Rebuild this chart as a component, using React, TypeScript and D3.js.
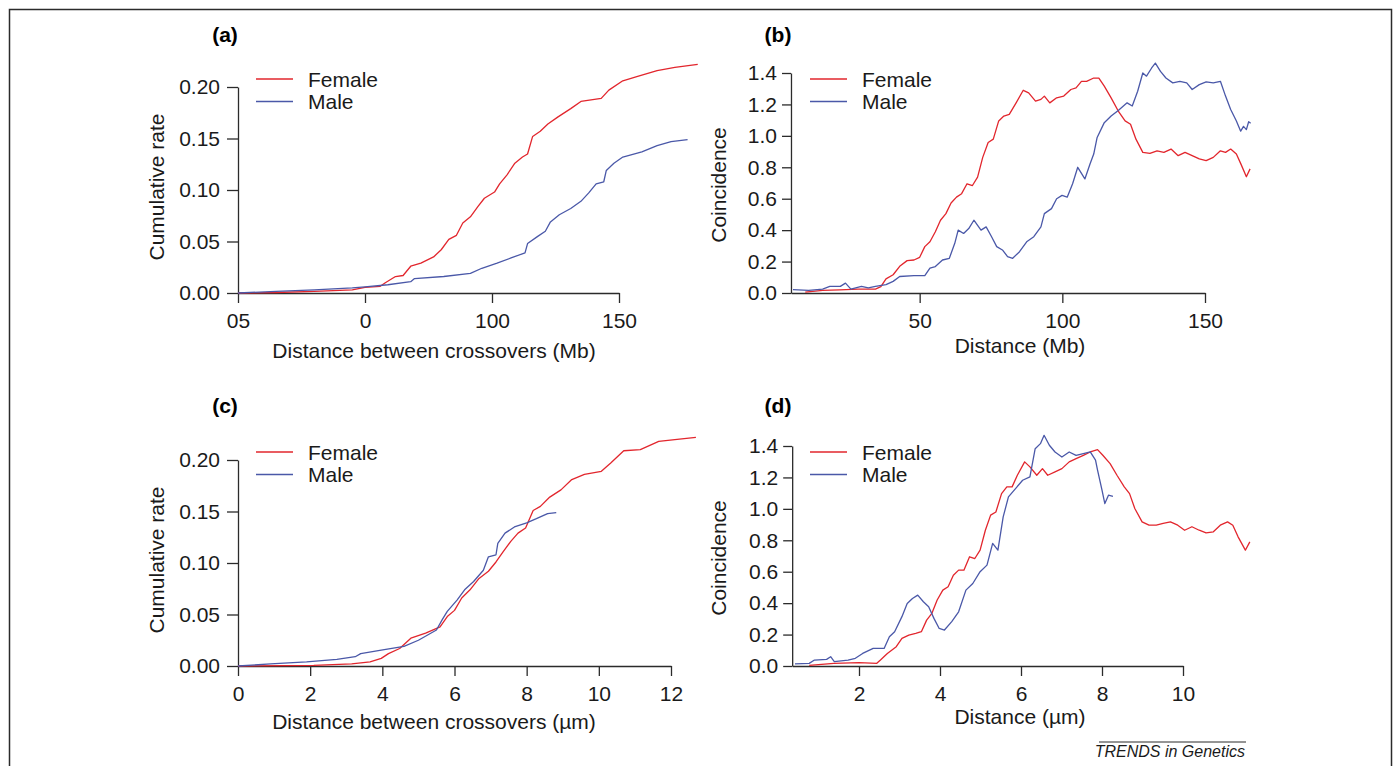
import { useEffect, useRef } from 'react';
import * as d3 from 'd3';

type Pt = [number, number];

// (a) cumulative rate vs distance in Mb
const FEMALE_CUM_MB: Pt[] = [
  [0, 0], [15, 0.0005], [30, 0.0015], [45, 0.003], [50, 0.0055], [56, 0.0065], [58, 0.01],
  [62, 0.016], [65, 0.017], [68, 0.026], [72, 0.029], [77, 0.035], [80, 0.042], [83, 0.052],
  [86, 0.056], [88.5, 0.068], [91.5, 0.074], [94.5, 0.084], [97, 0.092], [101, 0.098],
  [103, 0.106], [106, 0.115], [109, 0.126], [112, 0.132], [114, 0.135], [116, 0.152],
  [119, 0.157], [122, 0.164], [126, 0.171], [131, 0.179], [135, 0.186], [143, 0.189],
  [146, 0.197], [151.5, 0.206], [157, 0.21], [165, 0.216], [172, 0.219], [181, 0.222]
];
const MALE_CUM_MB: Pt[] = [
  [0, 0], [15, 0.0016], [30, 0.003], [45, 0.005], [50, 0.006], [59, 0.008], [68, 0.011],
  [69.5, 0.014], [81, 0.016], [91.5, 0.019], [96, 0.024], [102, 0.029], [107.5, 0.034],
  [113, 0.039], [114, 0.048], [118, 0.055], [121, 0.06], [123, 0.069], [126.5, 0.076],
  [131, 0.082], [135, 0.089], [138, 0.097], [141, 0.106], [144, 0.108], [145, 0.119],
  [148, 0.126], [151.5, 0.132], [159, 0.137], [165, 0.143], [170.5, 0.147], [177, 0.149]
];

// (b) coincidence vs distance in Mb
const FEMALE_COIN_MB: Pt[] = [
  [9.9, 0.005], [16, 0.017], [22, 0.02], [28.4, 0.025], [34.5, 0.025], [36.4, 0.04], [38.2, 0.09],
  [40.7, 0.116], [43, 0.17], [45.6, 0.206], [48, 0.21], [50, 0.227], [51.8, 0.295], [53.6, 0.326],
  [55.5, 0.39], [57.3, 0.463], [59.2, 0.505], [61, 0.573], [62.9, 0.61], [64.7, 0.632],
  [66.6, 0.695], [68.5, 0.684], [70.3, 0.737], [72.1, 0.863], [74, 0.958], [75.8, 0.979],
  [77.7, 1.095], [79.5, 1.126], [81.4, 1.137], [83.8, 1.21], [86.3, 1.29], [88.2, 1.274],
  [90.6, 1.221], [92.5, 1.232], [93.7, 1.253], [95.6, 1.21], [98, 1.242], [100.5, 1.253],
  [103, 1.295], [104.8, 1.305], [106.7, 1.347], [108.5, 1.347], [111, 1.368], [112.8, 1.368],
  [114.7, 1.316], [117.1, 1.242], [119.6, 1.158], [122, 1.095], [123.9, 1.074], [125.8, 0.979],
  [128.2, 0.895], [130.7, 0.888], [133.2, 0.905], [135.6, 0.895], [138.1, 0.916], [140.6, 0.874],
  [143, 0.895], [145.5, 0.874], [148, 0.853], [150.4, 0.842], [152.9, 0.863], [155.4, 0.905],
  [157.2, 0.895], [159, 0.916], [161, 0.884], [162.6, 0.82], [164.5, 0.74], [165.8, 0.79]
];
const MALE_COIN_MB: Pt[] = [
  [5.6, 0.021], [11.1, 0.017], [16, 0.025], [18.5, 0.042], [22.2, 0.042], [24, 0.063],
  [25.9, 0.025], [29.6, 0.042], [32, 0.032], [34.5, 0.042], [38.2, 0.053], [40.7, 0.074],
  [43, 0.105], [48, 0.11], [51.8, 0.11], [53.6, 0.158], [55.5, 0.168], [58, 0.21], [60.4, 0.221],
  [62.3, 0.316], [63.5, 0.4], [65.4, 0.379], [67.2, 0.41], [69, 0.463], [71.5, 0.4], [73.3, 0.421],
  [75.2, 0.358], [77, 0.295], [79, 0.274], [80.8, 0.232], [82.6, 0.221], [85, 0.263], [87.5, 0.326],
  [90, 0.358], [92.5, 0.421], [93.7, 0.505], [96.2, 0.537], [98, 0.6], [99.9, 0.621], [101.7, 0.61],
  [103.6, 0.695], [105.4, 0.8], [107.9, 0.726], [109.7, 0.821], [111, 0.884], [112.2, 0.99],
  [114.7, 1.084], [117.1, 1.126], [119.6, 1.162], [122.7, 1.21], [124.5, 1.19], [126.4, 1.284],
  [128.2, 1.4], [129.5, 1.38], [131.3, 1.432], [132.6, 1.463], [134.4, 1.41], [136.3, 1.368],
  [138.7, 1.337], [141.2, 1.347], [143.6, 1.337], [145.5, 1.295], [148, 1.326], [150.4, 1.343],
  [152.9, 1.337], [155.4, 1.347], [157.2, 1.253], [159, 1.168], [161, 1.095], [162.5, 1.03],
  [163.5, 1.06], [164.5, 1.04], [165.3, 1.09], [166, 1.08]
];

// (c) cumulative rate vs distance in µm
const FEMALE_CUM_UM: Pt[] = [
  [0, 0], [2.1, 0.0006], [3.15, 0.002], [3.66, 0.004], [3.97, 0.0074], [4.17, 0.012], [4.48, 0.017],
  [4.79, 0.027], [5.2, 0.032], [5.6, 0.038], [5.8, 0.048], [6.0, 0.054], [6.2, 0.066], [6.43, 0.074],
  [6.68, 0.085], [6.94, 0.092], [7.15, 0.101], [7.35, 0.111], [7.56, 0.121], [7.76, 0.129],
  [7.97, 0.134], [8.18, 0.151], [8.38, 0.155], [8.64, 0.164], [8.95, 0.171], [9.25, 0.181],
  [9.6, 0.186], [10.07, 0.189], [10.33, 0.197], [10.69, 0.209], [11.15, 0.21], [11.66, 0.218],
  [12.17, 0.22], [12.69, 0.222]
];
const MALE_CUM_UM: Pt[] = [
  [0, 0], [0.9, 0.002], [1.9, 0.004], [2.74, 0.0065], [3.25, 0.009], [3.4, 0.012], [3.97, 0.0155],
  [4.6, 0.019], [5.0, 0.025], [5.5, 0.035], [5.66, 0.045], [5.8, 0.053], [6.07, 0.064], [6.28, 0.074],
  [6.53, 0.082], [6.8, 0.093], [6.94, 0.106], [7.15, 0.108], [7.2, 0.119], [7.4, 0.129],
  [7.66, 0.135], [8.0, 0.139], [8.27, 0.143], [8.58, 0.148], [8.82, 0.149]
];

// (d) coincidence vs distance in µm
const FEMALE_COIN_UM: Pt[] = [
  [0.77, 0.004], [1.38, 0.017], [2.0, 0.021], [2.44, 0.017], [2.53, 0.038], [2.7, 0.08], [2.92, 0.123],
  [3.06, 0.176], [3.23, 0.197], [3.4, 0.208], [3.54, 0.218], [3.67, 0.292], [3.8, 0.335], [3.93, 0.42],
  [4.07, 0.483], [4.2, 0.504], [4.33, 0.578], [4.46, 0.61], [4.59, 0.61], [4.73, 0.695], [4.86, 0.684],
  [4.99, 0.737], [5.12, 0.864], [5.25, 0.96], [5.38, 0.98], [5.52, 1.097], [5.65, 1.14], [5.78, 1.14],
  [5.91, 1.214], [6.09, 1.299], [6.22, 1.267], [6.39, 1.214], [6.53, 1.256], [6.66, 1.214],
  [6.84, 1.235], [7.01, 1.256], [7.19, 1.299], [7.36, 1.32], [7.54, 1.34], [7.71, 1.362],
  [7.89, 1.377], [8.02, 1.341], [8.2, 1.288], [8.37, 1.214], [8.55, 1.14], [8.68, 1.097],
  [8.81, 1.002], [8.99, 0.917], [9.16, 0.896], [9.34, 0.896], [9.51, 0.907], [9.69, 0.917],
  [9.87, 0.896], [10.04, 0.864], [10.22, 0.886], [10.4, 0.864], [10.57, 0.847], [10.75, 0.854],
  [10.92, 0.896], [11.1, 0.917], [11.23, 0.896], [11.36, 0.822], [11.54, 0.737], [11.65, 0.79]
];
const MALE_COIN_UM: Pt[] = [
  [0.42, 0.013], [0.77, 0.017], [0.9, 0.038], [1.2, 0.042], [1.3, 0.059], [1.39, 0.028], [1.73, 0.038],
  [1.91, 0.049], [2.09, 0.08], [2.35, 0.112], [2.62, 0.112], [2.75, 0.186], [2.88, 0.218], [3.06, 0.314],
  [3.19, 0.398], [3.32, 0.43], [3.45, 0.451], [3.59, 0.409], [3.72, 0.377], [3.85, 0.303], [3.98, 0.239],
  [4.11, 0.229], [4.29, 0.282], [4.46, 0.345], [4.64, 0.483], [4.81, 0.525], [4.99, 0.6], [5.16, 0.642],
  [5.3, 0.78], [5.43, 0.737], [5.56, 0.949], [5.69, 1.076], [5.87, 1.13], [6.04, 1.182], [6.22, 1.203],
  [6.35, 1.383], [6.48, 1.415], [6.57, 1.468], [6.7, 1.405], [6.84, 1.362], [7.01, 1.33], [7.19, 1.362],
  [7.36, 1.34], [7.54, 1.352], [7.71, 1.362], [7.84, 1.31], [7.89, 1.246], [8.0, 1.119], [8.07, 1.034],
  [8.16, 1.087], [8.27, 1.08]
];

const SERIES = ['Female', 'Male'];
const CUM_TICKS = [0, 0.05, 0.1, 0.15, 0.2];
const COIN_TICKS = [0, 0.2, 0.4, 0.6, 0.8, 1.0, 1.2, 1.4];
const MB_TICKS_A = [0, 50, 100, 150];
const MB_TICK_LABELS_A = ['05', '0', '100', '150'];
const MB_TICKS_B = [50, 100, 150];
const UM_TICKS_C = [0, 2, 4, 6, 8, 10, 12];
const UM_TICKS_D = [2, 4, 6, 8, 10];

const RED = '#e2262d';
const BLUE = '#4a58a8';
const AXIS = '#2b2b2b';
const FONT = '"Liberation Sans", Arial, Helvetica, sans-serif';

export default function App() {
  const svgRef = useRef<SVGSVGElement>(null);

  useEffect(() => {
    const svg = d3.select(svgRef.current);
    svg.selectAll('*').remove();

    svg.append('rect')
      .attr('x', 9.5).attr('y', 9.5)
      .attr('width', 1382).attr('height', 800)
      .attr('fill', 'white')
      .attr('stroke', AXIS).attr('stroke-width', 1.5);

    const panels = [
      {
        label: '(a)', labelX: 225, labelY: 42,
        x: d3.scaleLinear().domain([0, 150]).range([238, 619]), xAxis: [0, 150],
        y: d3.scaleLinear().domain([0, 0.2]).range([293, 87]),
        xTicks: MB_TICKS_A, xFmt: (d: number, i: number) => MB_TICK_LABELS_A[i],
        yTicks: CUM_TICKS, yFmt: d3.format('.2f'), tick: 11, pad: 7,
        xTitle: 'Distance between crossovers (Mb)', xTitleX: 434, xTitleY: 358,
        yTitle: 'Cumulative rate', yTitleX: 164, yTitleY: 187,
        female: FEMALE_CUM_MB, male: MALE_CUM_MB, legX: 256, legY: 79
      },
      {
        label: '(b)', labelX: 778, labelY: 42,
        x: d3.scaleLinear().domain([0, 150]).range([777, 1205]), xAxis: [4.9, 150],
        y: d3.scaleLinear().domain([0, 1.4]).range([293, 73]),
        xTicks: MB_TICKS_B, xFmt: d3.format('d'),
        yTicks: COIN_TICKS, yFmt: d3.format('.1f'), tick: 9, pad: 5,
        xTitle: 'Distance (Mb)', xTitleX: 1020, xTitleY: 353,
        yTitle: 'Coincidence', yTitleX: 726, yTitleY: 185,
        female: FEMALE_COIN_MB, male: MALE_COIN_MB, legX: 810, legY: 79
      },
      {
        label: '(c)', labelX: 225, labelY: 413,
        x: d3.scaleLinear().domain([0, 12]).range([238, 671]), xAxis: [0, 12],
        y: d3.scaleLinear().domain([0, 0.2]).range([666, 460]),
        xTicks: UM_TICKS_C, xFmt: d3.format('d'),
        yTicks: CUM_TICKS, yFmt: d3.format('.2f'), tick: 11, pad: 7,
        xTitle: 'Distance between crossovers (µm)', xTitleX: 434, xTitleY: 729,
        yTitle: 'Cumulative rate', yTitleX: 164, yTitleY: 560,
        female: FEMALE_CUM_UM, male: MALE_CUM_UM, legX: 256, legY: 452
      },
      {
        label: '(d)', labelX: 778, labelY: 413,
        x: d3.scaleLinear().domain([0, 10]).range([778, 1183]), xAxis: [0.35, 10],
        y: d3.scaleLinear().domain([0, 1.4]).range([666, 446]),
        xTicks: UM_TICKS_D, xFmt: d3.format('d'),
        yTicks: COIN_TICKS, yFmt: d3.format('.1f'), tick: 9, pad: 5,
        xTitle: 'Distance (µm)', xTitleX: 1020, xTitleY: 724,
        yTitle: 'Coincidence', yTitleX: 726, yTitleY: 558,
        female: FEMALE_COIN_UM, male: MALE_COIN_UM, legX: 810, legY: 452
      }
    ];

    panels.forEach(p => {
      const g = svg.append('g');

      const xa = p.x.copy().domain(p.xAxis).range(p.xAxis.map(v => p.x(v)));
      const gx = g.append('g')
        .attr('transform', `translate(0,${p.y(0)})`)
        .call(d3.axisBottom(xa).tickValues(p.xTicks).tickFormat(p.xFmt as any)
          .tickSize(10).tickSizeOuter(0).tickPadding(10));

      const gy = g.append('g')
        .attr('transform', `translate(${p.x(p.xAxis[0])},0)`)
        .call(d3.axisLeft(p.y).tickValues(p.yTicks).tickFormat(p.yFmt as any)
          .tickSize(p.tick).tickSizeOuter(0).tickPadding(p.pad));

      [gx, gy].forEach(a => {
        a.selectAll('path, line').attr('stroke', AXIS).attr('stroke-width', 1.3);
        a.selectAll('text')
          .style('font-family', FONT).style('font-size', '21px').attr('fill', '#1a1a1a');
      });

      const line = d3.line<Pt>().x(d => p.x(d[0])).y(d => p.y(d[1]));
      [p.female, p.male].forEach((data, i) => {
        g.append('path')
          .datum(data)
          .attr('d', line)
          .attr('fill', 'none')
          .attr('stroke', i === 0 ? RED : BLUE)
          .attr('stroke-width', 1.3)
          .attr('stroke-linejoin', 'round');
      });

      SERIES.forEach((s, i) => {
        const ly = p.legY + i * 22.5;
        g.append('line')
          .attr('x1', p.legX).attr('x2', p.legX + 37)
          .attr('y1', ly).attr('y2', ly)
          .attr('stroke', i === 0 ? RED : BLUE).attr('stroke-width', 1.3);
        g.append('text')
          .attr('x', p.legX + 52).attr('y', ly + 7.5)
          .style('font-family', FONT).style('font-size', '21px').attr('fill', '#1a1a1a')
          .text(s);
      });

      g.append('text')
        .attr('x', p.labelX).attr('y', p.labelY)
        .attr('text-anchor', 'middle')
        .style('font-family', FONT).style('font-size', '21px').style('font-weight', 'bold')
        .text(p.label);

      g.append('text')
        .attr('x', p.xTitleX).attr('y', p.xTitleY)
        .attr('text-anchor', 'middle')
        .style('font-family', FONT).style('font-size', '21px').attr('fill', '#1a1a1a')
        .text(p.xTitle);

      g.append('text')
        .attr('transform', `translate(${p.yTitleX},${p.yTitleY}) rotate(-90)`)
        .attr('text-anchor', 'middle')
        .style('font-family', FONT).style('font-size', '21px').attr('fill', '#1a1a1a')
        .text(p.yTitle);
    });

    svg.append('line')
      .attr('x1', 1099).attr('x2', 1246).attr('y1', 742).attr('y2', 742)
      .attr('stroke', AXIS).attr('stroke-width', 1);
    svg.append('text')
      .attr('x', 1245).attr('y', 757)
      .attr('text-anchor', 'end')
      .style('font-family', FONT).style('font-size', '16px').style('font-style', 'italic')
      .attr('fill', '#1a1a1a')
      .text('TRENDS in Genetics');
  }, []);

  return (
    <svg ref={svgRef} width={1397} height={766}
      style={{ position: 'absolute', left: 0, top: 0, background: 'white' }} />
  );
}
